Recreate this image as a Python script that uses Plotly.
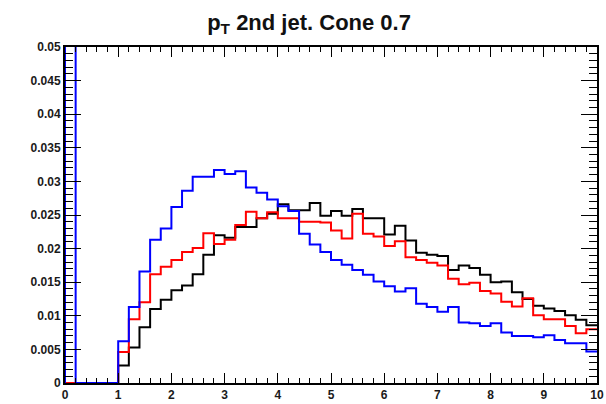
import numpy as np
import plotly.graph_objects as go

# Histogram binning: 50 bins of width 0.2 between 0 and 10
bin_width = 0.2
n_bins = 50

# Bin contents (normalised), bins 0.0-0.2 ... 9.8-10.0
blue_vals = [
    0.12, 0.0, 0.0, 0.0, 0.0,
    0.0062, 0.0113, 0.0166, 0.0213, 0.0230,
    0.0262, 0.0286, 0.0307, 0.0307, 0.0317,
    0.0311, 0.0315, 0.0291, 0.0283, 0.0273,
    0.0263, 0.0256, 0.0222, 0.0206, 0.0195,
    0.0183, 0.0176, 0.0168, 0.0161, 0.0151,
    0.0144, 0.0136, 0.0141, 0.0118, 0.0113,
    0.0106, 0.0113, 0.0090, 0.0089, 0.0085,
    0.0089, 0.0075, 0.0070, 0.0070, 0.0068,
    0.0071, 0.0064, 0.0059, 0.0059, 0.0047,
]
red_vals = [
    0.0, 0.0, 0.0, 0.0, 0.0,
    0.0046, 0.0095, 0.0120, 0.0162, 0.0173,
    0.0183, 0.0195, 0.0201, 0.0223, 0.0207,
    0.0213, 0.0235, 0.0255, 0.0245, 0.0254,
    0.0245, 0.0245, 0.0240, 0.0240, 0.0239,
    0.0227, 0.0215, 0.0252, 0.0222, 0.0218,
    0.0204, 0.0211, 0.0187, 0.0183, 0.0179,
    0.0175, 0.0155, 0.0147, 0.0149, 0.0137,
    0.0133, 0.0121, 0.0114, 0.0126, 0.0101,
    0.0095, 0.0095, 0.0085, 0.0074, 0.0080,
]
black_vals = [
    0.0, 0.0, 0.0, 0.0, 0.0,
    0.0026, 0.0053, 0.0083, 0.0110, 0.0124,
    0.0138, 0.0145, 0.0162, 0.0191, 0.0220,
    0.0216, 0.0232, 0.0232, 0.0245, 0.0252,
    0.0266, 0.0257, 0.0257, 0.0268, 0.0249,
    0.0256, 0.0249, 0.0259, 0.0245, 0.0245,
    0.0221, 0.0234, 0.0212, 0.0194, 0.0191,
    0.0189, 0.0168, 0.0175, 0.0171, 0.0161,
    0.0150, 0.0151, 0.0135, 0.0125, 0.0115,
    0.0111, 0.0107, 0.0101, 0.0094, 0.0086,
]

x_tick_vals = list(range(11))
x_tick_text = [str(v) for v in x_tick_vals]
y_tick_vals = [0, 0.005, 0.01, 0.015, 0.02, 0.025, 0.03, 0.035, 0.04, 0.045, 0.05]
y_tick_text = ["0", "0.005", "0.01", "0.015", "0.02", "0.025", "0.03",
               "0.035", "0.04", "0.045", "0.05"]

title_text = "p<sub>T</sub> 2nd jet. Cone 0.7"

edges = np.round(np.arange(n_bins + 1) * bin_width, 3)


def step_outline(vals):
    """Histogram outline: rise at the low edge, then one step per bin."""
    xs = [edges[0]] + list(edges)
    ys = [0.0] + list(vals) + [vals[-1]]
    return xs, ys


fig = go.Figure()
for vals, color in [(black_vals, "#000000"), (red_vals, "#ff0000"), (blue_vals, "#0000ff")]:
    xs, ys = step_outline(vals)
    fig.add_trace(go.Scatter(
        x=xs, y=ys, mode="lines",
        line=dict(color=color, width=2, shape="hv"),
        hoverinfo="skip", showlegend=False,
    ))

tick_font = dict(family="Liberation Sans, Arial, sans-serif", size=12,
                 color="#1a1a1a", weight="bold")

fig.update_layout(
    width=606, height=404,
    margin=dict(l=65, r=2, t=47, b=16),
    paper_bgcolor="white", plot_bgcolor="white",
    title=dict(
        text=title_text,
        x=0.51, xref="container", xanchor="center",
        y=1 - 22 / 404, yref="container", yanchor="middle",
        font=dict(family="Liberation Sans, Arial, sans-serif", size=22,
                  color="#111111", weight="bold"),
    ),
    xaxis=dict(
        range=[0, 10], showgrid=False, zeroline=False,
        showline=True, linecolor="black", linewidth=2, mirror="ticks",
        ticks="inside", ticklen=10, tickwidth=1, tickcolor="black",
        tickvals=x_tick_vals, ticktext=x_tick_text, tickfont=tick_font,
        ticklabeloverflow="allow",
        minor=dict(dtick=bin_width, ticks="inside", ticklen=5,
                   tickwidth=1, tickcolor="black", showgrid=False),
    ),
    yaxis=dict(
        range=[0, 0.05], showgrid=False, zeroline=False,
        showline=True, linecolor="black", linewidth=2, mirror="ticks",
        ticks="inside", ticklen=16, tickwidth=1, tickcolor="black",
        tickvals=y_tick_vals, ticktext=y_tick_text, tickfont=tick_font,
        ticklabeloverflow="allow",
        minor=dict(dtick=0.001, ticks="inside", ticklen=8,
                   tickwidth=1, tickcolor="black", showgrid=False),
    ),
)

fig.write_html("out.html")
